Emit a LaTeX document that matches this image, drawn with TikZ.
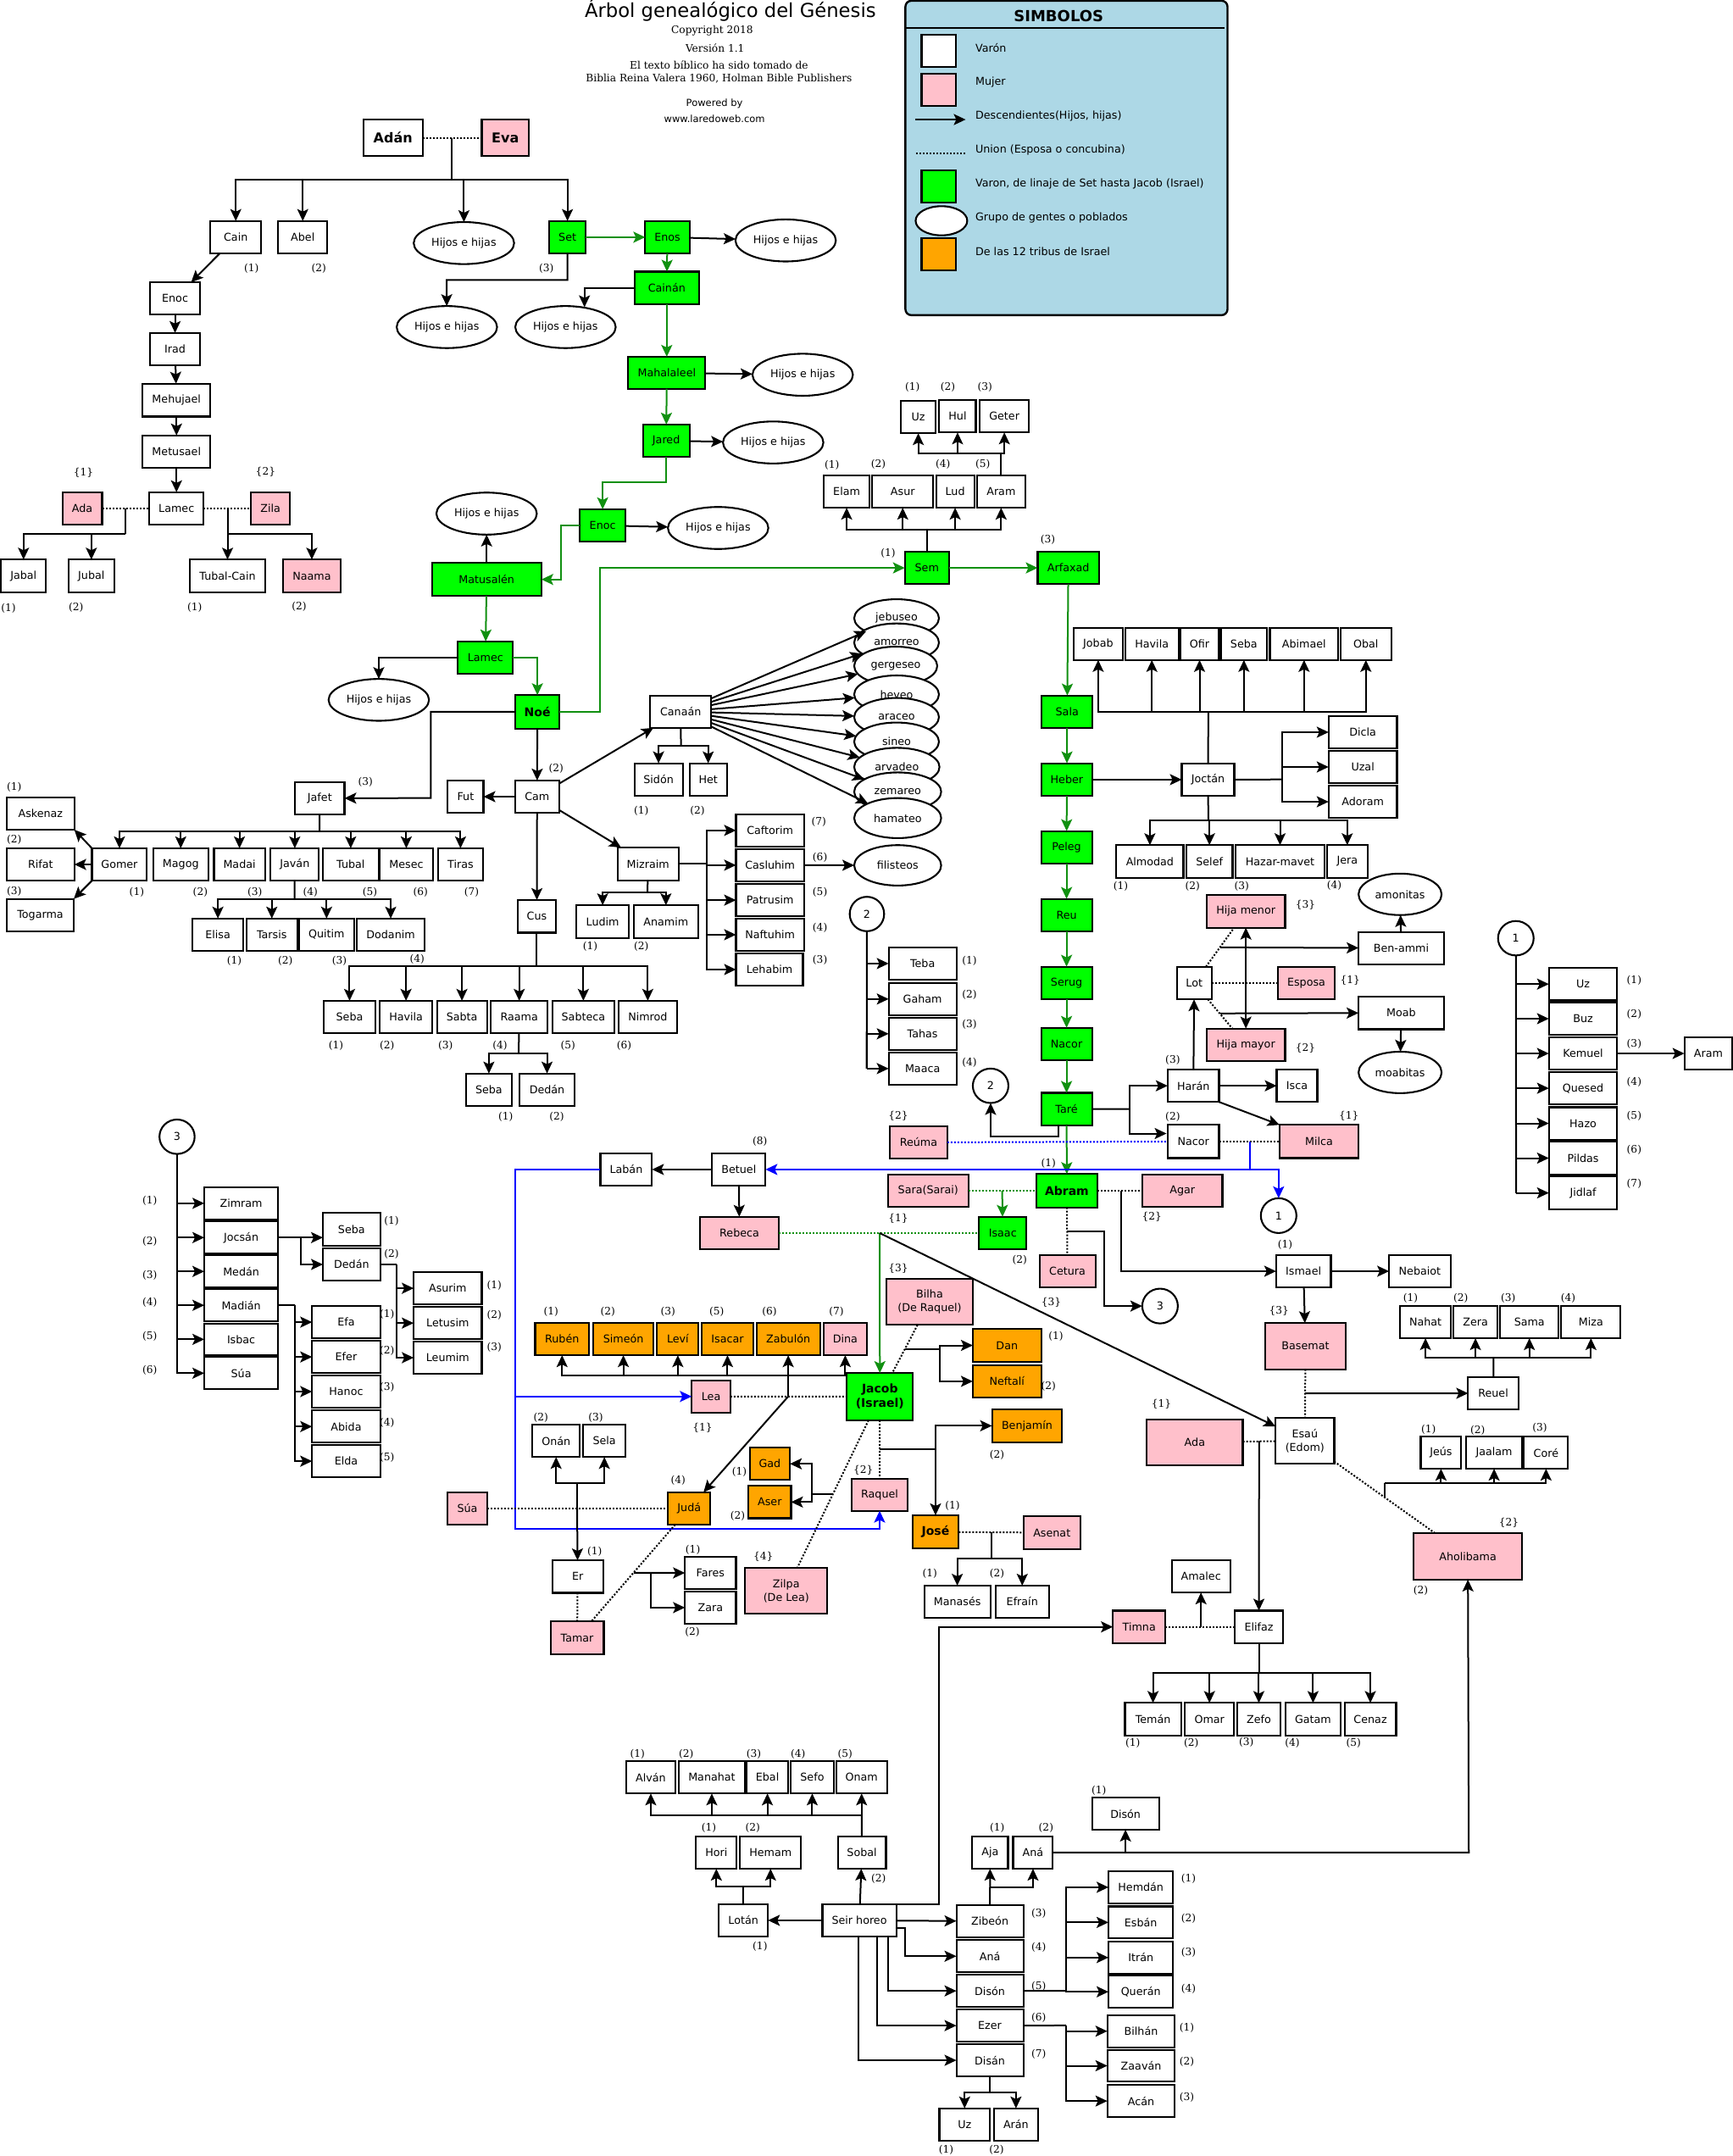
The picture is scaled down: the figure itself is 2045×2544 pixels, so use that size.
\documentclass[tikz,border=0pt]{standalone}
\usepackage{fontspec}
\setmainfont{DejaVu Sans}
\newfontfamily\serf{DejaVu Serif}
\usetikzlibrary{arrows.meta,shapes.geometric}
\definecolor{lpink}{HTML}{FFC0CB}
\definecolor{lgreen}{HTML}{00FF00}
\definecolor{lorange}{HTML}{FFA500}
\definecolor{lblue}{HTML}{ADD8E6}
\definecolor{dgreen}{HTML}{109010}
\tikzset{
 nodefont/.style={font=\fontsize{12.7}{16}\selectfont},
 bxs/.style={draw=black,line width=2.1pt,fill=white,inner sep=0pt,outer sep=0pt,align=center,rectangle,nodefont},
 els/.style={draw=black,line width=2.1pt,fill=white,inner sep=0pt,outer sep=0pt,align=center,ellipse,nodefont},
 fem/.style={fill=lpink},
 lin/.style={fill=lgreen},
 tri/.style={fill=lorange},
 bb/.style={font=\fontsize{14}{17}\selectfont\bfseries},
 bbb/.style={font=\fontsize{16}{18}\selectfont\bfseries},
 lab/.style={font=\fontsize{12.2}{14}\selectfont\serf,inner sep=0pt},
 legt/.style={font=\fontsize{12.7}{15}\selectfont,inner sep=0pt,anchor=west},
 ln/.style={line width=2pt,draw=black},
 arr/.style={line width=2pt,draw=black,-{Stealth[length=14pt,width=13pt,inset=3pt]}},
 garr/.style={line width=2pt,draw=dgreen,-{Stealth[length=14pt,width=13pt,inset=3pt]}},
 barr/.style={line width=2pt,draw=blue,-{Stealth[length=14pt,width=13pt,inset=3pt]}},
 dblarr/.style={line width=2pt,draw=black,{Stealth[length=14pt,width=13pt,inset=3pt]}-{Stealth[length=14pt,width=13pt,inset=3pt]}},
 dotl/.style={line width=2pt,draw=black,dash pattern=on 2pt off 2pt},
 gdot/.style={line width=2pt,draw=dgreen,dash pattern=on 2pt off 2pt},
 bdot/.style={line width=2pt,draw=blue,dash pattern=on 2pt off 2pt},
 bln/.style={line width=2pt,draw=blue},
}
\newcount\lbn
\newcommand\Z[4]{\def\ox{#1}\def\oy{#2}\pgfmathsetmacro\kx{#3/1568}\pgfmathsetmacro\ky{#4/1568}}
\newcommand\bxn[7][]{\node[bxs,#1,minimum width={(#5-(#3))*\kx*1pt},minimum height={(#6-(#4))*\ky*1pt}] (#2) at ({\ox+(#3+#5)/2*\kx},{-(\oy+(#4+#6)/2*\ky)}) {#7};}
\newcommand\eln[7][]{\node[els,#1,minimum width={(#5-(#3))*\kx*1pt},minimum height={(#6-(#4))*\ky*1pt}] (#2) at ({\ox+(#3+#5)/2*\kx},{-(\oy+(#4+#6)/2*\ky)}) {#7};}
\newcommand\cc[3]{\coordinate (#1) at ({\ox+(#2)*\kx},{-(\oy+(#3)*\ky)});}
\newcommand\lb[3]{\global\advance\lbn by 1 \node[lab] (lb\the\lbn) at ({\ox+(#1)*\kx},{-(\oy+(#2)*\ky)}) {#3};}
\newcommand\lt[3]{\global\advance\lbn by 1 \node[legt] (lb\the\lbn) at ({\ox+(#1)*\kx},{-(\oy+(#2)*\ky)}) {#3};}
\begin{document}
\begin{tikzpicture}[x=1pt,y=1pt]
\path[fill=white] (0,0) rectangle (2045,-2544);
\useasboundingbox (0,0) rectangle (2045,-2544);
% ---------- region 1
\Z{0}{0}{1050}{700}
\node[font=\fontsize{22.7}{26}\selectfont,inner sep=0pt] (title) at ({1287*\kx},{-28*\ky}) {Árbol genealógico del Génesis};
\lb{1255}{82}{Copyright 2018}
\lb{1260}{127}{Versión 1.1}
\lb{1267}{171}{El texto bíblico ha sido tomado de}
\lb{1267}{207}{Biblia Reina Valera 1960, Holman Bible Publishers}
\node[font=\fontsize{11.5}{13}\selectfont,inner sep=0pt] (pow) at ({1259*\kx},{-275*\ky}) {Powered by};
\node[font=\fontsize{11.5}{13}\selectfont,inner sep=0pt] (www) at ({1259*\kx},{-313*\ky}) {www.laredoweb.com};
\bxn[bbb]{adan}{640}{316}{745}{412}{Adán}
\bxn[fem,bbb]{eva}{849}{316}{932}{412}{Eva}
\bxn{cain}{371}{584}{460}{670}{Cain}
\bxn{abel}{490}{584}{577}{670}{Abel}
\eln{hA}{729}{587}{906}{698}{Hijos e hijas}
\bxn[lin]{set}{968}{584}{1032}{670}{Set}
\bxn[lin]{enos}{1137}{584}{1215}{670}{Enos}
\eln{hB}{1296}{580}{1473}{691}{Hijos e hijas}
\bxn{enocA}{264}{746}{353}{832}{Enoc}
\bxn{irad}{264}{880}{353}{966}{Irad}
\bxn{mehu}{251}{1014}{371}{1101}{Mehujael}
\bxn{metu}{251}{1151}{371}{1237}{Metusael}
\bxn{lamecA}{263}{1301}{359}{1387}{Lamec}
\bxn[fem]{adaA}{110}{1301}{180}{1387}{Ada}
\bxn[fem]{zila}{442}{1301}{511}{1387}{Zila}
\bxn{jabal}{2}{1479}{81}{1565}{Jabal}
\bxn{jubal}{121}{1479}{201}{1565}{Jubal}
\bxn{tubalc}{334}{1479}{468}{1565}{Tubal-Cain}
\bxn[fem]{naama}{499}{1479}{600}{1565}{Naama}
\eln{hC}{699}{809}{876}{920}{Hijos e hijas}
\eln{hD}{908}{809}{1085}{920}{Hijos e hijas}
\bxn[lin]{cainan}{1118}{718}{1232}{804}{Cainán}
\bxn[lin]{mahal}{1107}{943}{1243}{1028}{Mahalaleel}
\eln{hE}{1326}{935}{1503}{1046}{Hijos e hijas}
\bxn[lin]{jared}{1133}{1122}{1215}{1208}{Jared}
\eln{hF}{1274}{1114}{1451}{1225}{Hijos e hijas}
\bxn[lin]{enocG}{1022}{1346}{1102}{1432}{Enoc}
\eln{hG}{1177}{1340}{1354}{1451}{Hijos e hijas}
\eln{hH}{769}{1302}{946}{1413}{Hijos e hijas}
\bxn[lin]{matus}{761}{1488}{954}{1575}{Matusalén}
\bxn{elam}{1452}{1256}{1532}{1342}{Elam}
\lb{443}{710}{(1)}\lb{562}{710}{(2)}\lb{963}{710}{(3)}\lb{147}{1250}{\{1\}}\lb{468}{1248}{\{2\}}
\lb{1466}{1229}{(1)}\lb{1548}{1227}{(2)}
\cc{jAd}{796}{364}\cc{bAd}{796}{474}\cc{cSet}{787}{740}\cc{cCai}{1030}{812}\cc{cJar}{1062}{1275}\cc{cEnG}{989}{1531.5}
\cc{jAda}{221}{1343}\cc{bAda}{221}{1411}\cc{jZil}{401}{1343}\cc{bZil}{401}{1411}
% ---------- region 2
\Z{1050}{0}{995}{700}
\node[draw=black,line width=2.4pt,fill=lblue,rectangle,rounded corners=7pt,inner sep=0pt,outer sep=0pt,minimum width={599*\kx*1pt},minimum height={831*\ky*1pt}] (legend) at ({\ox+328.5*\kx},{-417.5*\ky}) {};
\cc{lH1}{29}{75}\cc{lH2}{622}{75}
\draw[ln] (lH1)--(lH2);
\node[font=\fontsize{18}{20}\selectfont\bfseries,inner sep=0pt] (simb) at ({\ox+314*\kx},{-42*\ky}) {SIMBOLOS};
\bxn{lgW}{59}{92}{123}{177}{}
\bxn[fem]{lgP}{59}{195}{123}{280}{}
\bxn[lin]{lgG}{59}{450}{123}{536}{}
\eln{lgE}{48}{545}{144}{622}{}
\bxn[tri]{lgO}{59}{629}{123}{715}{}
\cc{lA1}{47}{316}\cc{lA2}{141}{316}\cc{lD1}{49}{405}\cc{lD2}{140}{405}
\lt{159}{127}{Varón}\lt{159}{217}{Mujer}\lt{159}{306}{Descendientes(Hijos, hijas)}\lt{159}{396}{Union (Esposa o concubina)}
\lt{159}{485}{Varon, de linaje de Set hasta Jacob (Israel)}\lt{159}{575}{Grupo de gentes o poblados}\lt{159}{665}{De las 12 tribus de Israel}
\bxn{uzA}{21}{1059}{85}{1145}{Uz}
\bxn{hul}{92}{1057}{160}{1143}{Hul}
\bxn{geter}{167}{1057}{259}{1143}{Geter}
\bxn{asur}{-33}{1256}{81}{1342}{Asur}
\bxn{lud}{86}{1256}{157}{1342}{Lud}
\bxn{aramA}{162}{1256}{252}{1342}{Aram}
\bxn[lin]{sem}{28}{1458}{110}{1544}{Sem}
\bxn[lin]{arfax}{275}{1458}{389}{1544}{Arfaxad}
\lb{42}{1023}{(1)}\lb{108}{1023}{(2)}\lb{177}{1023}{(3)}\lb{99}{1227}{(4)}\lb{173}{1227}{(5)}\lb{294}{1426}{(3)}\lb{-3}{1463}{(1)}
\cc{bSem}{69}{1400}\cc{bAr}{207}{1199}
% ---------- region 3
\Z{0}{700}{1050}{650}
\bxn[lin]{lamecG}{807}{137}{904}{230}{Lamec}
\eln{hI}{579}{244}{756}{363}{Hijos e hijas}
\bxn[lin,bb]{noe}{908}{290}{986}{385}{Noé}
\bxn{canaan}{1146}{291}{1253}{383}{Canaán}
\bxn{jafet}{520}{537}{607}{630}{Jafet}
\bxn{fut}{789}{533}{852}{625}{Fut}
\bxn{cam}{908}{533}{985}{625}{Cam}
\bxn{sidon}{1118}{484}{1203}{577}{Sidón}
\bxn{het}{1215}{484}{1281}{577}{Het}
\bxn{askenaz}{12}{581}{131}{673}{Askenaz}
\bxn{rifat}{12}{726}{131}{818}{Rifat}
\bxn{togarma}{12}{870}{130}{963}{Togarma}
\bxn{gomer}{162}{726}{259}{818}{Gomer}
\bxn{magog}{270}{726}{367}{818}{Magog}
\bxn{madai}{377}{726}{467}{818}{Madai}
\bxn{javan}{477}{726}{562}{818}{Javán}
\bxn{tubal}{569}{726}{667}{818}{Tubal}
\bxn{mesec}{669}{726}{763}{818}{Mesec}
\bxn{tiras}{772}{726}{851}{818}{Tiras}
\bxn{cus}{912}{873}{980}{966}{Cus}
\bxn{mizraim}{1088}{724}{1196}{817}{Mizraim}
\bxn{ludim}{1016}{888}{1108}{981}{Ludim}
\bxn{anamim}{1117}{888}{1230}{981}{Anamim}
\bxn{caftorim}{1297}{629}{1417}{721}{Caftorim}
\bxn{casluhim}{1297}{728}{1417}{820}{Casluhim}
\bxn{patrusim}{1297}{827}{1417}{920}{Patrusim}
\bxn{naftuhim}{1297}{926}{1417}{1018}{Naftuhim}
\bxn{lehabim}{1297}{1025}{1415}{1117}{Lehabim}
\bxn{elisa}{339}{926}{429}{1018}{Elisa}
\bxn{tarsis}{434}{926}{524}{1018}{Tarsis}
\bxn{quitim}{527}{926}{624}{1018}{Quitim}
\bxn{dodanim}{629}{926}{748}{1018}{Dodanim}
\bxn{sebaA}{571}{1160}{661}{1252}{Seba}
\bxn{havilaA}{669}{1160}{762}{1252}{Havila}
\bxn{sabta}{770}{1160}{858}{1252}{Sabta}
\bxn{raama}{865}{1160}{965}{1252}{Raama}
\bxn{sabteca}{973}{1160}{1083}{1252}{Sabteca}
\bxn{nimrod}{1090}{1160}{1193}{1252}{Nimrod}
\bxn{sebaB}{821}{1367}{902}{1460}{Seba}
\bxn{dedanA}{916}{1367}{1012}{1460}{Dedán}
\lb{15}{42}{(1)}\lb{134}{40}{(2)}\lb{343}{40}{(1)}\lb{527}{38}{(2)}
\lb{980}{499}{(2)}\lb{644}{537}{(3)}\lb{25}{552}{(1)}\lb{25}{702}{(2)}\lb{25}{849}{(3)}
\lb{241}{851}{(1)}\lb{353}{851}{(2)}\lb{449}{851}{(3)}\lb{547}{851}{(4)}\lb{652}{851}{(5)}\lb{741}{851}{(6)}\lb{831}{851}{(7)}
\lb{1130}{620}{(1)}\lb{1229}{620}{(2)}\lb{1443}{651}{(7)}\lb{1445}{752}{(6)}\lb{1445}{851}{(5)}\lb{1445}{953}{(4)}\lb{1445}{1044}{(3)}
\lb{1040}{1005}{(1)}\lb{1130}{1005}{(2)}\lb{413}{1047}{(1)}\lb{503}{1047}{(2)}\lb{598}{1047}{(3)}\lb{735}{1042}{(4)}
\lb{592}{1288}{(1)}\lb{682}{1288}{(2)}\lb{785}{1288}{(3)}\lb{881}{1288}{(4)}\lb{1001}{1288}{(5)}\lb{1100}{1288}{(6)}\lb{891}{1491}{(1)}\lb{981}{1491}{(2)}
\cc{cNS}{1058}{337.5}\cc{cNJ}{759}{583}\cc{bCa}{1200}{434}\cc{bJf}{563}{677}\cc{bJv}{519}{871}\cc{bCu}{946}{1062}\cc{bRa}{914}{1309}\cc{bMiD}{1141}{852}\cc{bMiE}{1246}{770}\cc{bMiT}{1246}{676}\cc{bMiB}{1246}{1071}
% ---------- region 4
\Z{1000}{700}{1045}{650}
\eln{e1}{12}{17}{162}{125}{jebuseo}
\eln{e2}{12}{86}{162}{195}{amorreo}
\eln{e3}{12}{152}{159}{262}{gergeseo}
\eln{e4}{12}{234}{162}{342}{heveo}
\eln{e5}{12}{298}{162}{407}{araceo}
\eln{e6}{12}{368}{162}{477}{sineo}
\eln{e7}{12}{440}{163}{549}{arvadeo}
\eln{e8}{12}{510}{166}{620}{zemareo}
\eln{e9}{12}{583}{166}{697}{hamateo}
\eln{filist}{12}{717}{166}{832}{filisteos}
\eln{cirA}{4}{864}{65}{962}{2}
\bxn{teba}{73}{1008}{193}{1100}{Teba}
\bxn{gaham}{73}{1109}{193}{1201}{Gaham}
\bxn{tahas}{73}{1208}{193}{1300}{Tahas}
\bxn{maaca}{73}{1307}{193}{1399}{Maaca}
\bxn[lin]{sala}{344}{291}{434}{384}{Sala}
\bxn[lin]{heber}{343}{484}{434}{577}{Heber}
\bxn[lin]{peleg}{343}{677}{433}{770}{Peleg}
\bxn[lin]{reu}{343}{870}{433}{963}{Reu}
\bxn[lin]{serug}{343}{1063}{433}{1156}{Serug}
\bxn[lin]{nacorG}{343}{1237}{433}{1330}{Nacor}
\bxn[lin]{tare}{343}{1422}{433}{1515}{Taré}
\bxn{jobab}{400}{98}{488}{190}{Jobab}
\bxn{havilaB}{492}{98}{586}{190}{Havila}
\bxn{ofir}{589}{98}{658}{190}{Ofir}
\bxn{sebaC}{661}{98}{743}{190}{Seba}
\bxn{abimael}{748}{98}{869}{190}{Abimael}
\bxn{obal}{873}{98}{963}{190}{Obal}
\bxn{joctan}{592}{484}{685}{577}{Joctán}
\bxn{dicla}{852}{349}{973}{442}{Dicla}
\bxn{uzal}{852}{448}{973}{541}{Uzal}
\bxn{adoram}{852}{547}{973}{640}{Adoram}
\bxn{almodad}{476}{717}{595}{810}{Almodad}
\bxn{selef}{600}{717}{682}{810}{Selef}
\bxn{hazar}{687}{717}{845}{810}{Hazar-mavet}
\bxn{jera}{849}{717}{921}{810}{Jera}
\bxn[fem]{hmenor}{636}{859}{775}{952}{Hija menor}
\eln{amon}{905}{798}{1052}{916}{amonitas}
\bxn{benammi}{905}{964}{1056}{1056}{Ben-ammi}
\bxn{lot}{583}{1063}{645}{1156}{Lot}
\bxn[fem]{esposa}{762}{1063}{863}{1156}{Esposa}
\bxn{moab}{905}{1148}{1056}{1241}{Moab}
\bxn[fem]{hmayor}{636}{1239}{775}{1331}{Hija mayor}
\eln{moabit}{905}{1305}{1052}{1423}{moabitas}
\bxn{haran}{567}{1356}{658}{1448}{Harán}
\bxn{isca}{760}{1356}{832}{1448}{Isca}
\eln{cirB}{222}{1353}{285}{1451}{2}
\eln{cirC}{1152}{933}{1215}{1031}{1}
\bxn{uzB}{1242}{1066}{1363}{1159}{Uz}
\bxn{buz}{1242}{1165}{1363}{1257}{Buz}
\bxn{kemuel}{1242}{1264}{1363}{1356}{Kemuel}
\bxn{quesed}{1242}{1363}{1363}{1455}{Quesed}
\bxn{hazo}{1242}{1463}{1363}{1555}{Hazo}
\bxn{aramB}{1482}{1264}{1567}{1356}{Aram}
\lb{216}{1047}{(1)}\lb{216}{1143}{(2)}\lb{216}{1227}{(3)}\lb{216}{1335}{(4)}
\lb{484}{834}{(1)}\lb{611}{834}{(2)}\lb{698}{834}{(3)}\lb{862}{832}{(4)}\lb{811}{887}{\{3\}}\lb{890}{1102}{\{1\}}\lb{811}{1295}{\{2\}}
\lb{576}{1329}{(3)}\lb{576}{1491}{(2)}\lb{888}{1488}{\{1\}}\lb{90}{1488}{\{2\}}
\lb{1393}{1102}{(1)}\lb{1393}{1198}{(2)}\lb{1393}{1283}{(3)}\lb{1393}{1391}{(4)}\lb{1393}{1488}{(5)}
\cc{b2}{34}{1353}\cc{bJoU}{639}{337}\cc{bJoE}{769}{530}\cc{bJoD}{639}{647}\cc{jBen}{660}{1008}\cc{jMoab}{660}{1196}\cc{bTa}{500}{1468}
% ---------- region 5
\Z{0}{1300}{1050}{700}
\eln{cirD}{281}{47}{343}{138}{3}
\bxn{zimram}{360}{226}{490}{311}{Zimram}
\bxn{jocsan}{360}{316}{490}{402}{Jocsán}
\bxn{medan}{360}{406}{490}{491}{Medán}
\bxn{madian}{360}{496}{490}{580}{Madián}
\bxn{isbac}{360}{586}{490}{670}{Isbac}
\bxn{suaA}{360}{675}{490}{760}{Súa}
\bxn{sebaD}{569}{294}{670}{380}{Seba}
\bxn{dedanB}{569}{387}{670}{473}{Dedán}
\bxn{asurim}{729}{450}{849}{536}{Asurim}
\bxn{letusim}{729}{542}{849}{628}{Letusim}
\bxn{leumim}{729}{634}{849}{719}{Leumim}
\bxn{efa}{550}{540}{670}{625}{Efa}
\bxn{efer}{550}{632}{670}{717}{Efer}
\bxn{hanoc}{550}{724}{670}{808}{Hanoc}
\bxn{abida}{550}{816}{670}{901}{Abida}
\bxn{elda}{550}{907}{670}{993}{Elda}
\bxn{laban}{1058}{136}{1149}{222}{Labán}
\bxn{betuel}{1255}{136}{1349}{222}{Betuel}
\bxn[fem]{rebeca}{1233}{304}{1373}{390}{Rebeca}
\bxn[tri]{ruben}{943}{584}{1038}{670}{Rubén}
\bxn[tri]{simeon}{1046}{584}{1151}{670}{Simeón}
\bxn[tri]{levi}{1158}{584}{1231}{670}{Leví}
\bxn[tri]{isacar}{1236}{584}{1328}{670}{Isacar}
\bxn[tri]{zabulon}{1333}{584}{1445}{670}{Zabulón}
\bxn[fem]{dina}{1451}{584}{1528}{670}{Dina}
\bxn[fem]{lea}{1219}{736}{1287}{822}{Lea}
\bxn{onan}{938}{853}{1022}{939}{Onán}
\bxn{sela}{1028}{853}{1102}{939}{Sela}
\bxn[tri]{juda}{1177}{1032}{1252}{1118}{Judá}
\bxn[tri]{gad}{1321}{914}{1392}{1000}{Gad}
\bxn[tri]{aser}{1319}{1015}{1394}{1101}{Aser}
\bxn[fem]{suaB}{789}{1032}{858}{1118}{Súa}
\bxn{er}{973}{1212}{1063}{1298}{Er}
\bxn{fares}{1207}{1203}{1297}{1288}{Fares}
\bxn{zara}{1207}{1294}{1297}{1380}{Zara}
\bxn[fem]{tamar}{970}{1374}{1064}{1460}{Tamar}
\bxn[fem]{zilpa}{1313}{1232}{1458}{1353}{Zilpa\\(De Lea)}
\lb{264}{262}{(1)}\lb{264}{369}{(2)}\lb{264}{459}{(3)}\lb{264}{530}{(4)}\lb{264}{620}{(5)}\lb{264}{710}{(6)}
\lb{690}{316}{(1)}\lb{690}{403}{(2)}\lb{871}{486}{(1)}\lb{871}{564}{(2)}\lb{871}{649}{(3)}
\lb{682}{562}{(1)}\lb{682}{658}{(2)}\lb{682}{754}{(3)}\lb{682}{849}{(4)}\lb{682}{940}{(5)}
\lb{1339}{105}{(8)}\lb{971}{555}{(1)}\lb{1071}{555}{(2)}\lb{1177}{555}{(3)}\lb{1263}{555}{(5)}\lb{1356}{555}{(6)}\lb{1474}{555}{(7)}
\lb{1238}{862}{\{1\}}\lb{953}{835}{(2)}\lb{1050}{835}{(3)}\lb{1195}{1001}{(4)}\lb{1303}{978}{(1)}\lb{1300}{1095}{(2)}
\lb{1048}{1189}{(1)}\lb{1221}{1185}{(1)}\lb{1345}{1202}{\{4\}}\lb{1220}{1402}{(2)}
\cc{b3}{312}{716}\cc{jJo}{530}{358}\cc{bDeT}{699}{430}\cc{bMaE}{520}{537}
\cc{bl1}{908}{179}\cc{bl2}{908}{1128}\cc{bl3}{908}{779}
\cc{bJa}{1490}{723}\cc{jJa}{1389}{779}\cc{tJa}{1389}{723}
\cc{jGA}{1468}{1037}\cc{bGA}{1430}{1037}
\cc{jSJ}{1017}{1075}\cc{bSJ}{1017}{1007}
\cc{jJT}{1117}{1245}\cc{bJT}{1147}{1245}
% ---------- region 6
\Z{1000}{1300}{1045}{700}
\bxn{pildas}{1242}{106}{1363}{192}{Pildas}
\bxn{jidlaf}{1242}{198}{1363}{284}{Jidlaf}
\bxn[fem]{reuma}{75}{64}{177}{151}{Reúma}
\bxn{nacorB}{567}{61}{658}{149}{Nacor}
\bxn[fem]{milca}{765}{61}{905}{149}{Milca}
\bxn[lin,bb]{abram}{334}{191}{443}{279}{Abram}
\bxn[fem]{sara}{72}{192}{214}{278}{Sara(Sarai)}
\bxn[fem]{agar}{522}{192}{664}{278}{Agar}
\bxn[lin]{isaac}{233}{304}{317}{390}{Isaac}
\eln{cirE}{732}{255}{795}{347}{1}
\bxn[fem]{cetura}{340}{405}{439}{491}{Cetura}
\eln{cirF}{522}{494}{585}{586}{3}
\bxn{ismael}{759}{405}{856}{491}{Ismael}
\bxn{nebaiot}{959}{405}{1068}{491}{Nebaiot}
\bxn[fem]{basemat}{740}{585}{882}{707}{Basemat}
\bxn{nahat}{978}{540}{1069}{625}{Nahat}
\bxn{zera}{1073}{540}{1151}{625}{Zera}
\bxn{sama}{1156}{540}{1259}{625}{Sama}
\bxn{miza}{1264}{540}{1369}{625}{Miza}
\bxn{reuel}{1099}{728}{1188}{813}{Reuel}
\bxn[fem]{bilha}{69}{468}{222}{590}{Bilha\\(De Raquel)}
\bxn[tri]{dan}{222}{601}{343}{687}{Dan}
\bxn[tri]{neftali}{222}{696}{343}{782}{Neftalí}
\bxn[lin,bb]{jacob}{-1}{717}{116}{842}{Jacob\\(Israel)}
\bxn[tri]{benjamin}{256}{813}{380}{900}{Benjamín}
\bxn[fem]{adaB}{530}{839}{700}{961}{Ada}
\bxn{esau}{758}{835}{862}{957}{Esaú\\(Edom)}
\bxn{jeus}{1015}{885}{1087}{970}{Jeús}
\bxn{jaalam}{1096}{885}{1194}{970}{Jaalam}
\bxn{core}{1198}{885}{1276}{970}{Coré}
\bxn[fem]{ahol}{1002}{1141}{1195}{1263}{Aholibama}
\bxn[fem]{raquel}{7}{996}{107}{1081}{Raquel}
\bxn[tri,bb]{jose}{115}{1093}{197}{1181}{José}
\bxn[fem]{asenat}{312}{1096}{412}{1182}{Asenat}
\bxn{manases}{136}{1279}{253}{1364}{Manasés}
\bxn{efrain}{262}{1279}{357}{1364}{Efraín}
\bxn[fem]{timna}{470}{1345}{563}{1431}{Timna}
\bxn{amalec}{574}{1211}{678}{1297}{Amalec}
\bxn{elifaz}{686}{1345}{771}{1431}{Elifaz}
\lb{1393}{127}{(6)}\lb{1393}{217}{(7)}
\lb{356}{163}{(1)}\lb{90}{308}{\{1\}}\lb{539}{304}{\{2\}}\lb{305}{418}{(2)}\lb{775}{378}{(1)}\lb{90}{440}{\{3\}}\lb{361}{530}{\{3\}}\lb{764}{552}{\{3\}}
\lb{997}{519}{(1)}\lb{1086}{519}{(2)}\lb{1170}{519}{(3)}\lb{1276}{519}{(4)}\lb{369}{620}{(1)}\lb{356}{752}{(2)}\lb{556}{799}{\{1\}}
\lb{1029}{866}{(1)}\lb{1116}{868}{(2)}\lb{1226}{862}{(3)}\lb{28}{973}{\{2\}}\lb{265}{933}{(2)}\lb{186}{1068}{(1)}\lb{1171}{1113}{\{2\}}
\lb{146}{1247}{(1)}\lb{265}{1247}{(2)}\lb{1015}{1292}{(2)}
\cc{b1}{1184}{241}\cc{cNa}{565}{84}\cc{cT2s}{373}{62}\cc{cT2a}{373}{92}\cc{cT2b}{253.5}{92}
\cc{jNM}{712}{105}\cc{bT}{712}{179}
\cc{jSI}{274}{235}\cc{jAg}{484}{235}\cc{jCe}{389}{342}\cc{cC3}{455}{540}
\cc{jBE}{810}{771}\cc{bRe}{1144}{677}\cc{jAE}{729}{897}\cc{jEA}{951}{1045}\cc{bEA}{951}{1008}
\cc{jIs}{57}{347}\cc{jBi}{102}{653}\cc{bBi}{163}{653}\cc{jJR}{57}{918}\cc{bJR}{156}{918}
\cc{jJA}{255}{1138}\cc{bJA}{255}{1208}\cc{jTE}{626}{1388}\cc{bEl}{728.5}{1510}
% ---------- region 7
\Z{700}{2000}{1050}{544}
\bxn{teman}{937}{27}{1036}{137}{Temán}
\bxn{omar}{1043}{27}{1129}{137}{Omar}
\bxn{zefo}{1135}{27}{1211}{137}{Zefo}
\bxn{gatam}{1220}{27}{1317}{137}{Gatam}
\bxn{cenaz}{1324}{27}{1415}{137}{Cenaz}
\bxn{alvan}{58}{225}{145}{335}{Alván}
\bxn{manahat}{151}{225}{267}{335}{Manahat}
\bxn{ebal}{270}{225}{344}{335}{Ebal}
\bxn{sefo}{348}{225}{424}{335}{Sefo}
\bxn{onam}{428}{225}{518}{335}{Onam}
\bxn{hori}{181}{480}{253}{591}{Hori}
\bxn{hemam}{259}{480}{366}{591}{Hemam}
\bxn{sobal}{431}{480}{516}{591}{Sobal}
\bxn{lotan}{221}{711}{308}{822}{Lotán}
\bxn{seir}{404}{711}{534}{822}{Seir horeo}
\bxn{aja}{668}{480}{731}{591}{Aja}
\bxn{anaA}{740}{480}{810}{591}{Aná}
\bxn{disonA}{879}{349}{997}{458}{Disón}
\bxn{zibeon}{640}{715}{758}{824}{Zibeón}
\bxn{anaB}{640}{834}{758}{943}{Aná}
\bxn{disonB}{640}{952}{758}{1061}{Disón}
\bxn{ezer}{640}{1070}{758}{1179}{Ezer}
\bxn{disan}{640}{1188}{758}{1297}{Disán}
\bxn{hemdan}{908}{599}{1022}{709}{Hemdán}
\bxn{esban}{908}{719}{1022}{828}{Esbán}
\bxn{itran}{908}{839}{1022}{947}{Itrán}
\bxn{queran}{908}{955}{1022}{1064}{Querán}
\bxn{bilhan}{906}{1089}{1025}{1198}{Bilhán}
\bxn{zaavan}{906}{1207}{1025}{1315}{Zaaván}
\bxn{acan}{906}{1326}{1025}{1436}{Acán}
\bxn{uzC}{610}{1406}{699}{1516}{Uz}
\bxn{aran}{706}{1406}{784}{1516}{Arán}
\lb{951}{165}{(1)}\lb{1054}{165}{(2)}\lb{1151}{162}{(3)}\lb{1232}{165}{(4)}\lb{1340}{165}{(5)}
\lb{78}{200}{(1)}\lb{164}{200}{(2)}\lb{283}{200}{(3)}\lb{361}{200}{(4)}\lb{444}{200}{(5)}
\lb{204}{453}{(1)}\lb{281}{453}{(2)}\lb{503}{625}{(2)}\lb{294}{856}{(1)}\lb{712}{453}{(1)}\lb{798}{453}{(2)}\lb{891}{325}{(1)}
\lb{785}{743}{(3)}\lb{785}{859}{(4)}\lb{785}{990}{(5)}\lb{785}{1098}{(6)}\lb{785}{1221}{(7)}
\lb{1049}{626}{(1)}\lb{1049}{759}{(2)}\lb{1049}{876}{(3)}\lb{1049}{1000}{(4)}\lb{1046}{1133}{(1)}\lb{1046}{1248}{(2)}\lb{1046}{1369}{(3)}
\lb{622}{1548}{(1)}\lb{711}{1548}{(2)}
\cc{cSe}{609}{711}\cc{cAh}{1543}{536}\cc{jDi}{938}{536}\cc{s1}{534}{792}\cc{cS1}{550}{792}\cc{s2}{520}{822}\cc{s3}{501}{822}\cc{s4}{468}{822}
\cc{bLo}{264}{651}\cc{bSo}{473}{408}\cc{jZi}{699}{653}\cc{bDi}{833}{1006}\cc{bEz}{833}{1124}\cc{bDn}{699}{1351}
% ========== connectors
\draw[arr] (lA1)--(lA2);
\draw[dotl] (lD1)--(lD2);
\draw[dotl] (adan)--(eva);
\draw[ln] (jAd)--(bAd);
\foreach \n in {cain,abel,hA,set} \draw[arr] (bAd) -| (\n);
\draw[garr] (set)--(enos);
\draw[arr] (enos)--(hB);
\draw[garr] (enos)--(cainan);
\draw[arr] (set.south) |- (cSet) -- (hC);
\draw[arr] (cainan) -| (cCai);
\draw[garr] (cainan)--(mahal);
\draw[arr] (mahal)--(hE);
\draw[garr] (mahal)--(jared);
\draw[arr] (jared)--(hF);
\draw[garr] (jared.south) |- (cJar) -- (enocG);
\draw[arr] (enocG)--(hG);
\draw[garr] (enocG.west) -| (cEnG) -- (matus);
\draw[arr] (matus)--(hH);
\draw[garr] (matus)--(lamecG);
\draw[arr] (cain)--(enocA);
\draw[arr] (enocA)--(irad);
\draw[arr] (irad)--(mehu);
\draw[arr] (mehu)--(metu);
\draw[arr] (metu)--(lamecA);
\draw[dotl] (adaA)--(lamecA);
\draw[dotl] (lamecA)--(zila);
\draw[ln] (jAda)--(bAda);
\draw[arr] (bAda) -| (jabal);
\draw[arr] (bAda) -| (jubal);
\draw[arr] (jZil)--(tubalc);
\draw[arr] (bZil) -| (naama);
% Noe
\draw[arr] (lamecG) -| (hI);
\draw[garr] (lamecG) -| (noe);
\draw[garr] (noe) -- (cNS) |- (sem);
\draw[arr] (noe.west) -| (cNJ) -- (jafet);
\draw[arr] (noe)--(cam);
\draw[arr] (cam)--(fut);
\draw[arr] (cam)--(canaan);
\draw[arr] (cam)--(mizraim);
\draw[arr] (cam)--(cus);
\draw[ln] (canaan)--(bCa);
\draw[arr] (bCa) -| (sidon);
\draw[arr] (bCa) -| (het);
\foreach \n in {e1,e2,e3,e4,e5,e6,e7,e8,e9} \draw[arr] (canaan)--(\n);
\draw[ln] (jafet)--(bJf);
\foreach \n in {gomer,magog,madai,javan,tubal,mesec,tiras} \draw[arr] (bJf) -| (\n);
\draw[arr] (gomer.north west)--(askenaz.south east);
\draw[arr] (gomer)--(rifat);
\draw[arr] (gomer.south west)--(togarma.north east);
\draw[ln] (javan)--(bJv);
\foreach \n in {elisa,tarsis,quitim,dodanim} \draw[arr] (bJv) -| (\n);
\draw[ln] (cus)--(bCu);
\foreach \n in {sebaA,havilaA,sabta,raama,sabteca,nimrod} \draw[arr] (bCu) -| (\n);
\draw[ln] (raama)--(bRa);
\draw[arr] (bRa) -| (sebaB);
\draw[arr] (bRa) -| (dedanA);
\draw[ln] (mizraim)--(bMiD);
\draw[arr] (bMiD) -| (ludim);
\draw[arr] (bMiD) -| (anamim);
\draw[ln] (mizraim.east |- bMiE)--(bMiE);
\draw[ln] (bMiT)--(bMiB);
\foreach \n in {caftorim,casluhim,patrusim,naftuhim,lehabim} \draw[arr] (bMiE) |- (\n);
\draw[arr] (casluhim)--(filist);
% Sem
\draw[ln] (sem)--(bSem);
\foreach \n in {elam,asur,lud,aramA} \draw[arr] (bSem) -| (\n);
\draw[ln] (aramA)--(bAr);
\foreach \n in {uzA,hul,geter} \draw[arr] (bAr) -| (\n);
\draw[garr] (sem)--(arfax);
\draw[garr] (arfax)--(sala);
\draw[garr] (sala)--(heber);
\draw[garr] (heber)--(peleg);
\draw[garr] (peleg)--(reu);
\draw[garr] (reu)--(serug);
\draw[garr] (serug)--(nacorG);
\draw[garr] (nacorG)--(tare);
\draw[garr] (tare)--(abram);
\draw[arr] (heber)--(joctan);
\draw[ln] (joctan)--(bJoU);
\foreach \n in {jobab,havilaB,ofir,sebaC,abimael,obal} \draw[arr] (bJoU) -| (\n);
\draw[ln] (joctan)--(bJoE);
\foreach \n in {dicla,uzal,adoram} \draw[arr] (bJoE) |- (\n);
\draw[ln] (joctan)--(bJoD);
\foreach \n in {almodad,selef,hazar,jera} \draw[arr] (bJoD) -| (\n);
% circles
\draw[ln] (cirA)--(b2);
\foreach \n in {teba,gaham,tahas,maaca} \draw[arr] (b2) |- (\n);
\draw[ln] (cirC)--(b1);
\foreach \n in {uzB,buz,kemuel,quesed,hazo,pildas,jidlaf} \draw[arr] (b1) |- (\n);
\draw[arr] (kemuel)--(aramB);
\draw[ln] (cirD)--(b3);
\foreach \n in {zimram,jocsan,medan,madian,isbac,suaA} \draw[arr] (b3) |- (\n);
% Lot
\draw[dotl] (lot)--(esposa);
\draw[dotl] (lot)--(hmenor);
\draw[dotl] (lot)--(hmayor);
\draw[dblarr] (hmenor)--(hmayor);
\draw[arr] (jBen)--(benammi);
\draw[arr] (benammi)--(amon);
\draw[arr] (jMoab)--(moab);
\draw[arr] (moab)--(moabit);
\draw[arr] (haran)--(lot);
\draw[arr] (haran)--(isca);
\draw[arr] (haran.south east)--(milca.north west);
\draw[ln] (tare)--(bTa);
\draw[arr] (bTa) |- (haran);
\draw[arr] (bTa) |- (cNa);
\draw[arr] (cT2s)--(cT2a)--(cT2b)--(cirB);
% Abram
\draw[bdot] (reuma)--(nacorB);
\draw[dotl] (nacorB)--(milca);
\draw[bln] (jNM)--(bT);
\draw[barr] (bT)--(betuel);
\draw[barr] (bT) -| (cirE);
\draw[barr] (laban)--(bl1)--(bl2) -| (raquel);
\draw[barr] (bl3)--(lea);
\draw[arr] (betuel)--(laban);
\draw[arr] (betuel)--(rebeca);
\draw[gdot] (sara)--(abram);
\draw[garr] (jSI)--(isaac);
\draw[dotl] (abram)--(agar);
\draw[arr] (jAg) |- (ismael);
\draw[dotl] (abram)--(cetura);
\draw[arr] (jCe) -| (cC3) -- (cirF);
\draw[arr] (ismael)--(nebaiot);
\draw[arr] (ismael)--(basemat);
\draw[dotl] (basemat)--(esau);
\draw[arr] (jBE)--(reuel);
\draw[ln] (reuel)--(bRe);
\foreach \n in {nahat,zera,sama,miza} \draw[arr] (bRe) -| (\n);
\draw[dotl] (adaB)--(esau);
\draw[arr] (jAE)--(elifaz);
\draw[dotl] (esau)--(ahol);
\draw[ln] (jEA)--(bEA);
\foreach \n in {jeus,jaalam,core} \draw[arr] (bEA) -| (\n);
\draw[dotl] (timna)--(elifaz);
\draw[arr] (jTE)--(amalec);
\draw[ln] (elifaz)--(bEl);
\foreach \n in {teman,omar,zefo,gatam,cenaz} \draw[arr] (bEl) -| (\n);
% Isaac, Jacob
\draw[gdot] (rebeca)--(isaac);
\draw[garr] (jIs)--(jacob);
\draw[arr] (jIs)--(esau);
\draw[dotl] (bilha)--(jacob);
\draw[ln] (jBi)--(bBi);
\draw[arr] (bBi) |- (dan);
\draw[arr] (bBi) |- (neftali);
\draw[dotl] (jacob)--(raquel);
\draw[ln] (jJR)--(bJR);
\draw[arr] (bJR)--(jose);
\draw[arr] (bJR) |- (benjamin);
\draw[dotl] (jose)--(asenat);
\draw[ln] (jJA)--(bJA);
\draw[arr] (bJA) -| (manases);
\draw[arr] (bJA) -| (efrain);
\draw[dotl] (lea)--(jacob);
\foreach \n in {ruben,simeon,levi,isacar,zabulon,dina} \draw[arr] (bJa) -| (\n);
\draw[ln] (jJa)--(tJa);
\draw[arr] (jJa)--(juda);
\draw[dotl] (jacob)--(zilpa);
\draw[ln] (jGA)--(bGA);
\draw[arr] (bGA) |- (gad);
\draw[arr] (bGA) |- (aser);
\draw[dotl] (suaB)--(juda);
\draw[ln] (jSJ)--(bSJ);
\draw[arr] (bSJ) -| (onan);
\draw[arr] (bSJ) -| (sela);
\draw[arr] (jSJ)--(er);
\draw[dotl] (er)--(tamar);
\draw[dotl] (juda)--(tamar);
\draw[arr] (jJT)--(fares);
\draw[arr] (bJT) |- (zara);
% Cetura sons
\draw[arr] (jocsan.east)--(jocsan.east -| sebaD.west);
\draw[arr] (jJo) |- (dedanB);
\draw[ln] (dedanB)--(bDeT);
\foreach \n in {asurim,letusim,leumim} \draw[arr] (bDeT) |- (\n);
\draw[ln] (madian)--(bMaE);
\foreach \n in {efa,efer,hanoc,abida,elda} \draw[arr] (bMaE) |- (\n);
% Seir
\draw[arr] (seir)--(lotan);
\draw[arr] (seir)--(sobal);
\draw[arr] (seir)--(zibeon);
\draw[arr] (seir.north east)--(cSe) |- (timna);
\draw[arr] (s1)--(cS1) |- (anaB);
\draw[arr] (s2) |- (disonB);
\draw[arr] (s3) |- (ezer);
\draw[arr] (s4) |- (disan);
\draw[ln] (lotan)--(bLo);
\draw[arr] (bLo) -| (hori);
\draw[arr] (bLo) -| (hemam);
\draw[ln] (sobal)--(bSo);
\foreach \n in {alvan,manahat,ebal,sefo,onam} \draw[arr] (bSo) -| (\n);
\draw[arr] (zibeon)--(aja);
\draw[arr] (jZi) -| (anaA);
\draw[arr] (anaA)--(cAh)--(ahol);
\draw[arr] (jDi)--(disonA);
\draw[ln] (disonB)--(bDi);
\foreach \n in {hemdan,esban,itran,queran} \draw[arr] (bDi) |- (\n);
\draw[ln] (ezer)--(bEz);
\foreach \n in {bilhan,zaavan,acan} \draw[arr] (bEz) |- (\n);
\draw[ln] (disan)--(bDn);
\draw[arr] (bDn) -| (uzC);
\draw[arr] (bDn) -| (aran);
\end{tikzpicture}
\end{document}
